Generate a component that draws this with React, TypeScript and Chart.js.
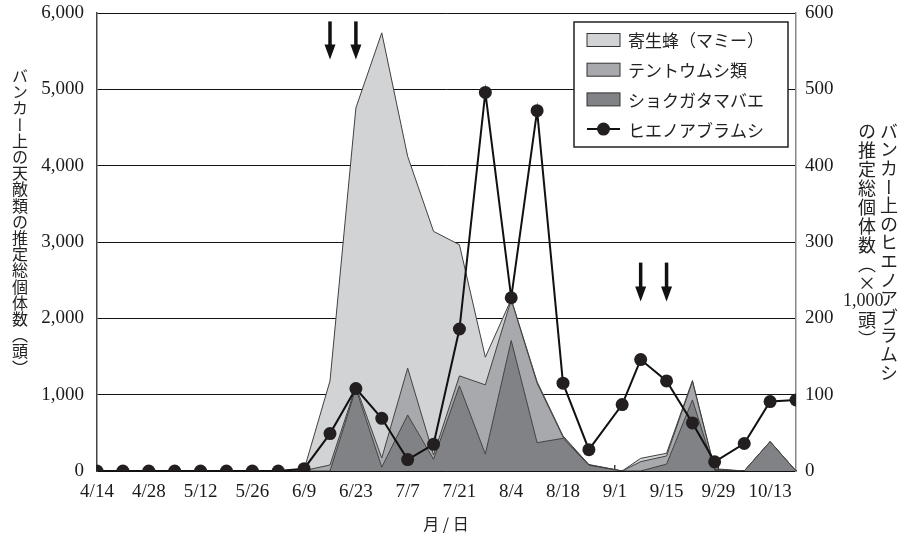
import React, { useEffect, useRef } from 'react';
import { Chart, registerables } from 'chart.js';

Chart.register(...registerables);

// days after 4/14 for each survey
const surveyDays = [0, 7, 14, 21, 28, 35, 42, 49, 56, 63, 70, 77, 84, 91, 98, 105, 112, 119, 126, 133, 142, 147, 154, 161, 167, 175, 182, 189];
const tickDates = ['4/14', '4/28', '5/12', '5/26', '6/9', '6/23', '7/7', '7/21', '8/4', '8/18', '9/1', '9/15', '9/29', '10/13'];

// natural enemies (heads), stacked
const gallMidge = [0, 0, 0, 0, 0, 0, 0, 0, 0, 0, 1080, 50, 734, 153, 1115, 223, 1709, 371, 428, 75, 0, 0, 90, 931, 10, 0, 385, 0];
const ladybirds = [0, 0, 0, 0, 0, 0, 0, 0, 5, 79, 30, 120, 613, 57, 131, 905, 534, 779, 17, 5, 0, 122, 107, 240, 10, 0, 0, 0];
const parasitoids = [0, 0, 0, 0, 0, 0, 0, 0, 15, 1101, 3647, 5570, 2775, 2929, 1718, 363, 7, 20, 15, 5, 0, 44, 35, 14, 10, 0, 0, 0];
// aphids (x1,000 heads)
const aphids = [0, 0, 0, 0, 0, 0, 0, 0, 3, 49, 108, 69, 15, 35, 186, 496, 227, 472, 115, 28, 87, 146, 118, 63, 12, 36, 91, 93];

const seriesNames = ['寄生蜂（マミー）', 'テントウムシ類', 'ショクガタマバエ', 'ヒエノアブラムシ'];
const seriesColors = ['#d2d3d5', '#a8a9ac', '#818285'];

// release arrows (day, top value, tip value on left axis)
const arrowDays = [63, 70, 147, 154];
const arrowTop = [5890, 5890, 2730, 2730];
const arrowTip = [5390, 5390, 2220, 2220];

const JP = '"Noto Sans CJK JP", "Noto Sans", sans-serif';
const SERIF = '"Liberation Serif", "DejaVu Serif", serif';

const toPts = (vals: number[]) => surveyDays.map((d, i) => ({ x: d, y: vals[i] }));

const decorPlugin = {
  id: 'decor',
  beforeDatasetsDraw(chart: any) {
    const { ctx, chartArea, scales } = chart;
    const xs = scales.x;
    ctx.save();
    ctx.strokeStyle = '#111';
    ctx.lineWidth = 1.2;
    xs.ticks.forEach((t: any) => {
      const px = xs.getPixelForValue(t.value);
      ctx.beginPath();
      ctx.moveTo(px, chartArea.bottom);
      ctx.lineTo(px, chartArea.bottom - 6);
      ctx.stroke();
    });
    ctx.restore();
  },
  afterDraw(chart: any) {
    const { ctx, chartArea, scales } = chart;
    const xs = scales.x;
    const ys = scales.y;
    ctx.save();
    // arrows
    ctx.fillStyle = '#111';
    ctx.strokeStyle = '#111';
    for (let i = 0; i < arrowDays.length; i++) {
      const x = xs.getPixelForValue(arrowDays[i]);
      const y0 = ys.getPixelForValue(arrowTop[i]);
      const y1 = ys.getPixelForValue(arrowTip[i]);
      ctx.lineWidth = 3.5;
      ctx.beginPath();
      ctx.moveTo(x, y0);
      ctx.lineTo(x, y1 - 12);
      ctx.stroke();
      ctx.beginPath();
      ctx.moveTo(x - 5.5, y1 - 15);
      ctx.lineTo(x + 5.5, y1 - 15);
      ctx.lineTo(x, y1);
      ctx.closePath();
      ctx.fill();
    }
    // legend
    const bw = 214;
    const bh = 125;
    const bx = chartArea.right - 8 - bw;
    const by = chartArea.top + 9;
    ctx.fillStyle = '#fff';
    ctx.fillRect(bx, by, bw, bh);
    ctx.lineWidth = 1.5;
    ctx.strokeStyle = '#222';
    ctx.strokeRect(bx, by, bw, bh);
    ctx.font = `17px ${JP}`;
    ctx.textBaseline = 'middle';
    for (let i = 0; i < 4; i++) {
      const cy = by + 18 + i * 29.7;
      const sx = bx + 13;
      if (i < 3) {
        ctx.fillStyle = seriesColors[i];
        ctx.fillRect(sx, cy - 6.5, 33, 13);
        ctx.lineWidth = 1;
        ctx.strokeStyle = '#333';
        ctx.strokeRect(sx, cy - 6.5, 33, 13);
      } else {
        ctx.lineWidth = 2;
        ctx.strokeStyle = '#111';
        ctx.beginPath();
        ctx.moveTo(sx, cy);
        ctx.lineTo(sx + 33, cy);
        ctx.stroke();
        ctx.fillStyle = '#231f20';
        ctx.beginPath();
        ctx.arc(sx + 16.5, cy, 6.5, 0, Math.PI * 2);
        ctx.fill();
      }
      ctx.fillStyle = '#222';
      ctx.fillText(seriesNames[i], bx + 54, cy + 1);
    }
    ctx.restore();
  },
};

export default function App() {
  const canvasRef = useRef<HTMLCanvasElement | null>(null);

  useEffect(() => {
    if (!canvasRef.current) return;
    Chart.defaults.font.family = SERIF;
    Chart.defaults.font.size = 19;
    Chart.defaults.color = '#1a1a1a';
    const chart = new Chart(canvasRef.current, {
      type: 'line',
      data: {
        datasets: [
          {
            label: seriesNames[3],
            data: toPts(aphids),
            yAxisID: 'y1',
            borderColor: '#111',
            borderWidth: 2,
            pointRadius: 6.5,
            pointBackgroundColor: '#231f20',
            pointBorderWidth: 0,
            fill: false,
            order: 0,
          } as any,
          {
            label: seriesNames[2],
            data: toPts(gallMidge),
            yAxisID: 'y',
            backgroundColor: seriesColors[2],
            borderColor: '#404040',
            borderWidth: 1,
            pointRadius: 0,
            fill: 'origin',
            order: 1,
          },
          {
            label: seriesNames[1],
            data: toPts(ladybirds),
            yAxisID: 'y',
            backgroundColor: seriesColors[1],
            borderColor: '#404040',
            borderWidth: 1,
            pointRadius: 0,
            fill: '-1',
            order: 2,
          },
          {
            label: seriesNames[0],
            data: toPts(parasitoids),
            yAxisID: 'y',
            backgroundColor: seriesColors[0],
            borderColor: '#404040',
            borderWidth: 1,
            pointRadius: 0,
            fill: '-1',
            order: 3,
          },
        ],
      },
      options: {
        animation: false,
        responsive: true,
        maintainAspectRatio: false,
        layout: { padding: { top: 13, left: 0, right: 0, bottom: 0 } },
        elements: { line: { tension: 0 } },
        plugins: { legend: { display: false }, tooltip: { enabled: false } },
        scales: {
          x: {
            type: 'linear',
            min: 0,
            max: 189,
            ticks: {
              stepSize: 14,
              includeBounds: false,
              autoSkip: false,
              maxRotation: 0,
              padding: 10,
              callback: (v: any) => {
                const k = Number(v) / 14;
                return Number.isInteger(k) && tickDates[k] ? tickDates[k] : '';
              },
            },
            grid: { drawOnChartArea: false, drawTicks: false },
            border: { color: '#111', width: 1.5 },
            afterFit: (s: any) => { s.height = 68; s.paddingLeft = 0; s.paddingRight = 0; },
          } as any,
          y: {
            position: 'left',
            stacked: true,
            min: 0,
            max: 6000,
            ticks: {
              stepSize: 1000,
              padding: 13,
              callback: (v: any) => Number(v).toLocaleString('en-US'),
            },
            grid: { color: '#111', lineWidth: 1, drawTicks: false },
            border: { color: '#444', width: 1.5 },
            afterFit: (s: any) => { s.width = 97; s.paddingTop = 0; s.paddingBottom = 0; },
          } as any,
          y1: {
            position: 'right',
            min: 0,
            max: 600,
            ticks: { stepSize: 100, padding: 9 },
            grid: { drawOnChartArea: false, drawTicks: false },
            border: { color: '#888', width: 1.5 },
            afterFit: (s: any) => { s.width = 118; s.paddingTop = 0; s.paddingBottom = 0; },
          } as any,
        },
      },
      plugins: [decorPlugin],
    });
    return () => chart.destroy();
  }, []);

  const vert: React.CSSProperties = {
    position: 'absolute',
    writingMode: 'vertical-rl',
    fontFamily: JP,
    color: '#222',
    whiteSpace: 'nowrap',
  };

  return (
    <div style={{ position: 'fixed', left: 0, top: 0, width: 914, height: 539, background: '#fff' }}>
      <div style={{ position: 'absolute', left: 0, top: 0, width: 914, height: 539 }}>
        <canvas ref={canvasRef} />
      </div>
      <div style={{ ...vert, left: 11, top: 68, fontSize: 16, lineHeight: '18px', letterSpacing: '0.2px' }}>
        バンカー上の天敵類の推定総個体数（頭）
      </div>
      <div style={{ ...vert, left: 880, top: 122, fontSize: 18, lineHeight: '18px', letterSpacing: '0.6px' }}>
        バンカー上のヒエノアブラムシ
      </div>
      <div style={{ ...vert, left: 858, top: 122, fontSize: 18, lineHeight: '18px', letterSpacing: '1px' }}>
        の推定総個体数（×
      </div>
      <div style={{ position: 'absolute', left: 843, top: 291, fontFamily: SERIF, fontSize: 18, lineHeight: '19px', color: '#222', whiteSpace: 'nowrap' }}>
        1,000
      </div>
      <div style={{ ...vert, left: 858, top: 311, fontSize: 18, lineHeight: '18px', letterSpacing: '1px' }}>
        頭）
      </div>
      <div style={{ position: 'absolute', left: 446, top: 511, transform: 'translateX(-50%)', fontFamily: JP, fontSize: 16, color: '#222', whiteSpace: 'nowrap' }}>
        月 / 日
      </div>
    </div>
  );
}
